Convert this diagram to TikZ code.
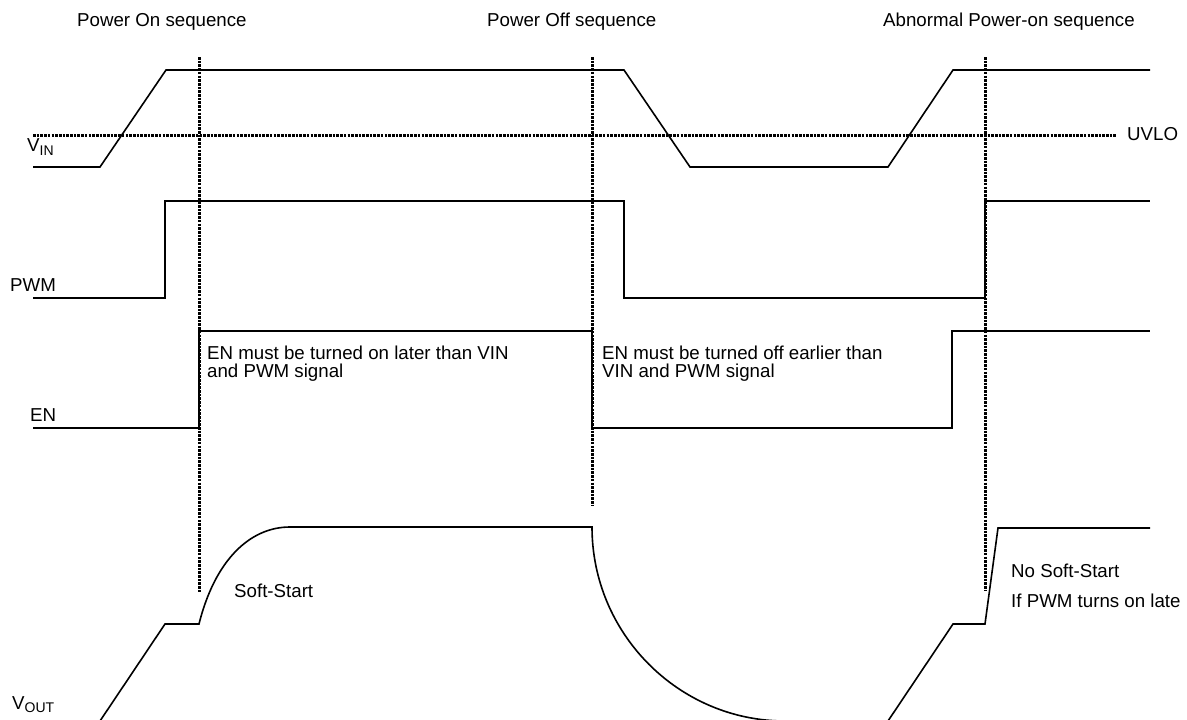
\documentclass[tikz,border=0pt]{standalone}
\usepackage{fontspec}
\setmainfont{Liberation Sans}
\begin{document}
\begin{tikzpicture}[
    x=1pt, y=-1pt,
    signal/.style={draw, line width=1.6pt},
    marker/.style={draw, line width=3pt, dash pattern=on 2.6pt off 1.1pt},
    textnode/.style={anchor=base west, inner sep=0, align=left, font=\fontsize{18.7}{18}\selectfont}
    ]
    \useasboundingbox (0,0) rectangle (1187,720);

    % Titles
    \node[textnode] (ton) at (77,27) {Power On sequence};
    \node[textnode] (toff) at (487,27) {Power Off sequence};
    \node[textnode] (tab) at (883,27) {Abnormal Power-on sequence};

    % Signal names
    \node[textnode] (vin) at (27,151) {V\raisebox{-0.22em}{\fontsize{14}{14}\selectfont IN}};
    \node[textnode] (uvlo) at (1127,140) {UVLO};
    \node[textnode] (pwm) at (10,291) {PWM};
    \node[textnode] (en) at (30,421) {EN};
    \node[textnode] (vout) at (12,709) {V\raisebox{-0.18em}{\fontsize{14}{14}\selectfont OUT}};

    % Markers
    \coordinate (m1) at (199,57);
    \coordinate (m2) at (592,57);
    \coordinate (m3) at (985,57);
    \draw[marker] (m1) -- (199,593);
    \draw[marker] (m2) -- (592,505);
    \draw[marker] (m3) -- (985,590);
    \draw[marker] (33,135) -- (1117,135);

    % VIN
    \draw[signal] (33,167) -- (100,167) -- (166,70) -- (624,70) -- (690,167)
        -- (888,167) -- (953,70) -- (1150,70);

    % PWM
    \draw[signal] (33,298) -- (165,298) -- (165,201) -- (624,201) -- (624,298)
        -- (985,298) -- (985,201) -- (1150,201);

    % EN
    \draw[signal] (33,428) -- (199,428) -- (199,331) -- (592,331) -- (592,428)
        -- (952,428) -- (952,331) -- (1150,331);
    \node[textnode] (enon) at (207,377) {EN must be turned on later than VIN\\and PWM signal};
    \node[textnode] (enoff) at (602,377) {EN must be turned off earlier than\\VIN and PWM signal};

    % VOUT
    \draw[signal] (100,721) -- (165,624) -- (199,624)
        .. controls (215,560) and (250,527) .. (290,527) -- (592,527)
        .. controls (592,634) and (679,721) .. (785,721);
    \draw[signal] (888,721) -- (953,624) -- (985,624) -- (998,528) -- (1150,528);
    \node[textnode] (ss) at (234,597) {Soft-Start};
    \node[textnode] (noss) at (1011,577) {No Soft-Start};
    \node[textnode] (late) at (1011,607) {If PWM turns on late};

\end{tikzpicture}
\end{document}
